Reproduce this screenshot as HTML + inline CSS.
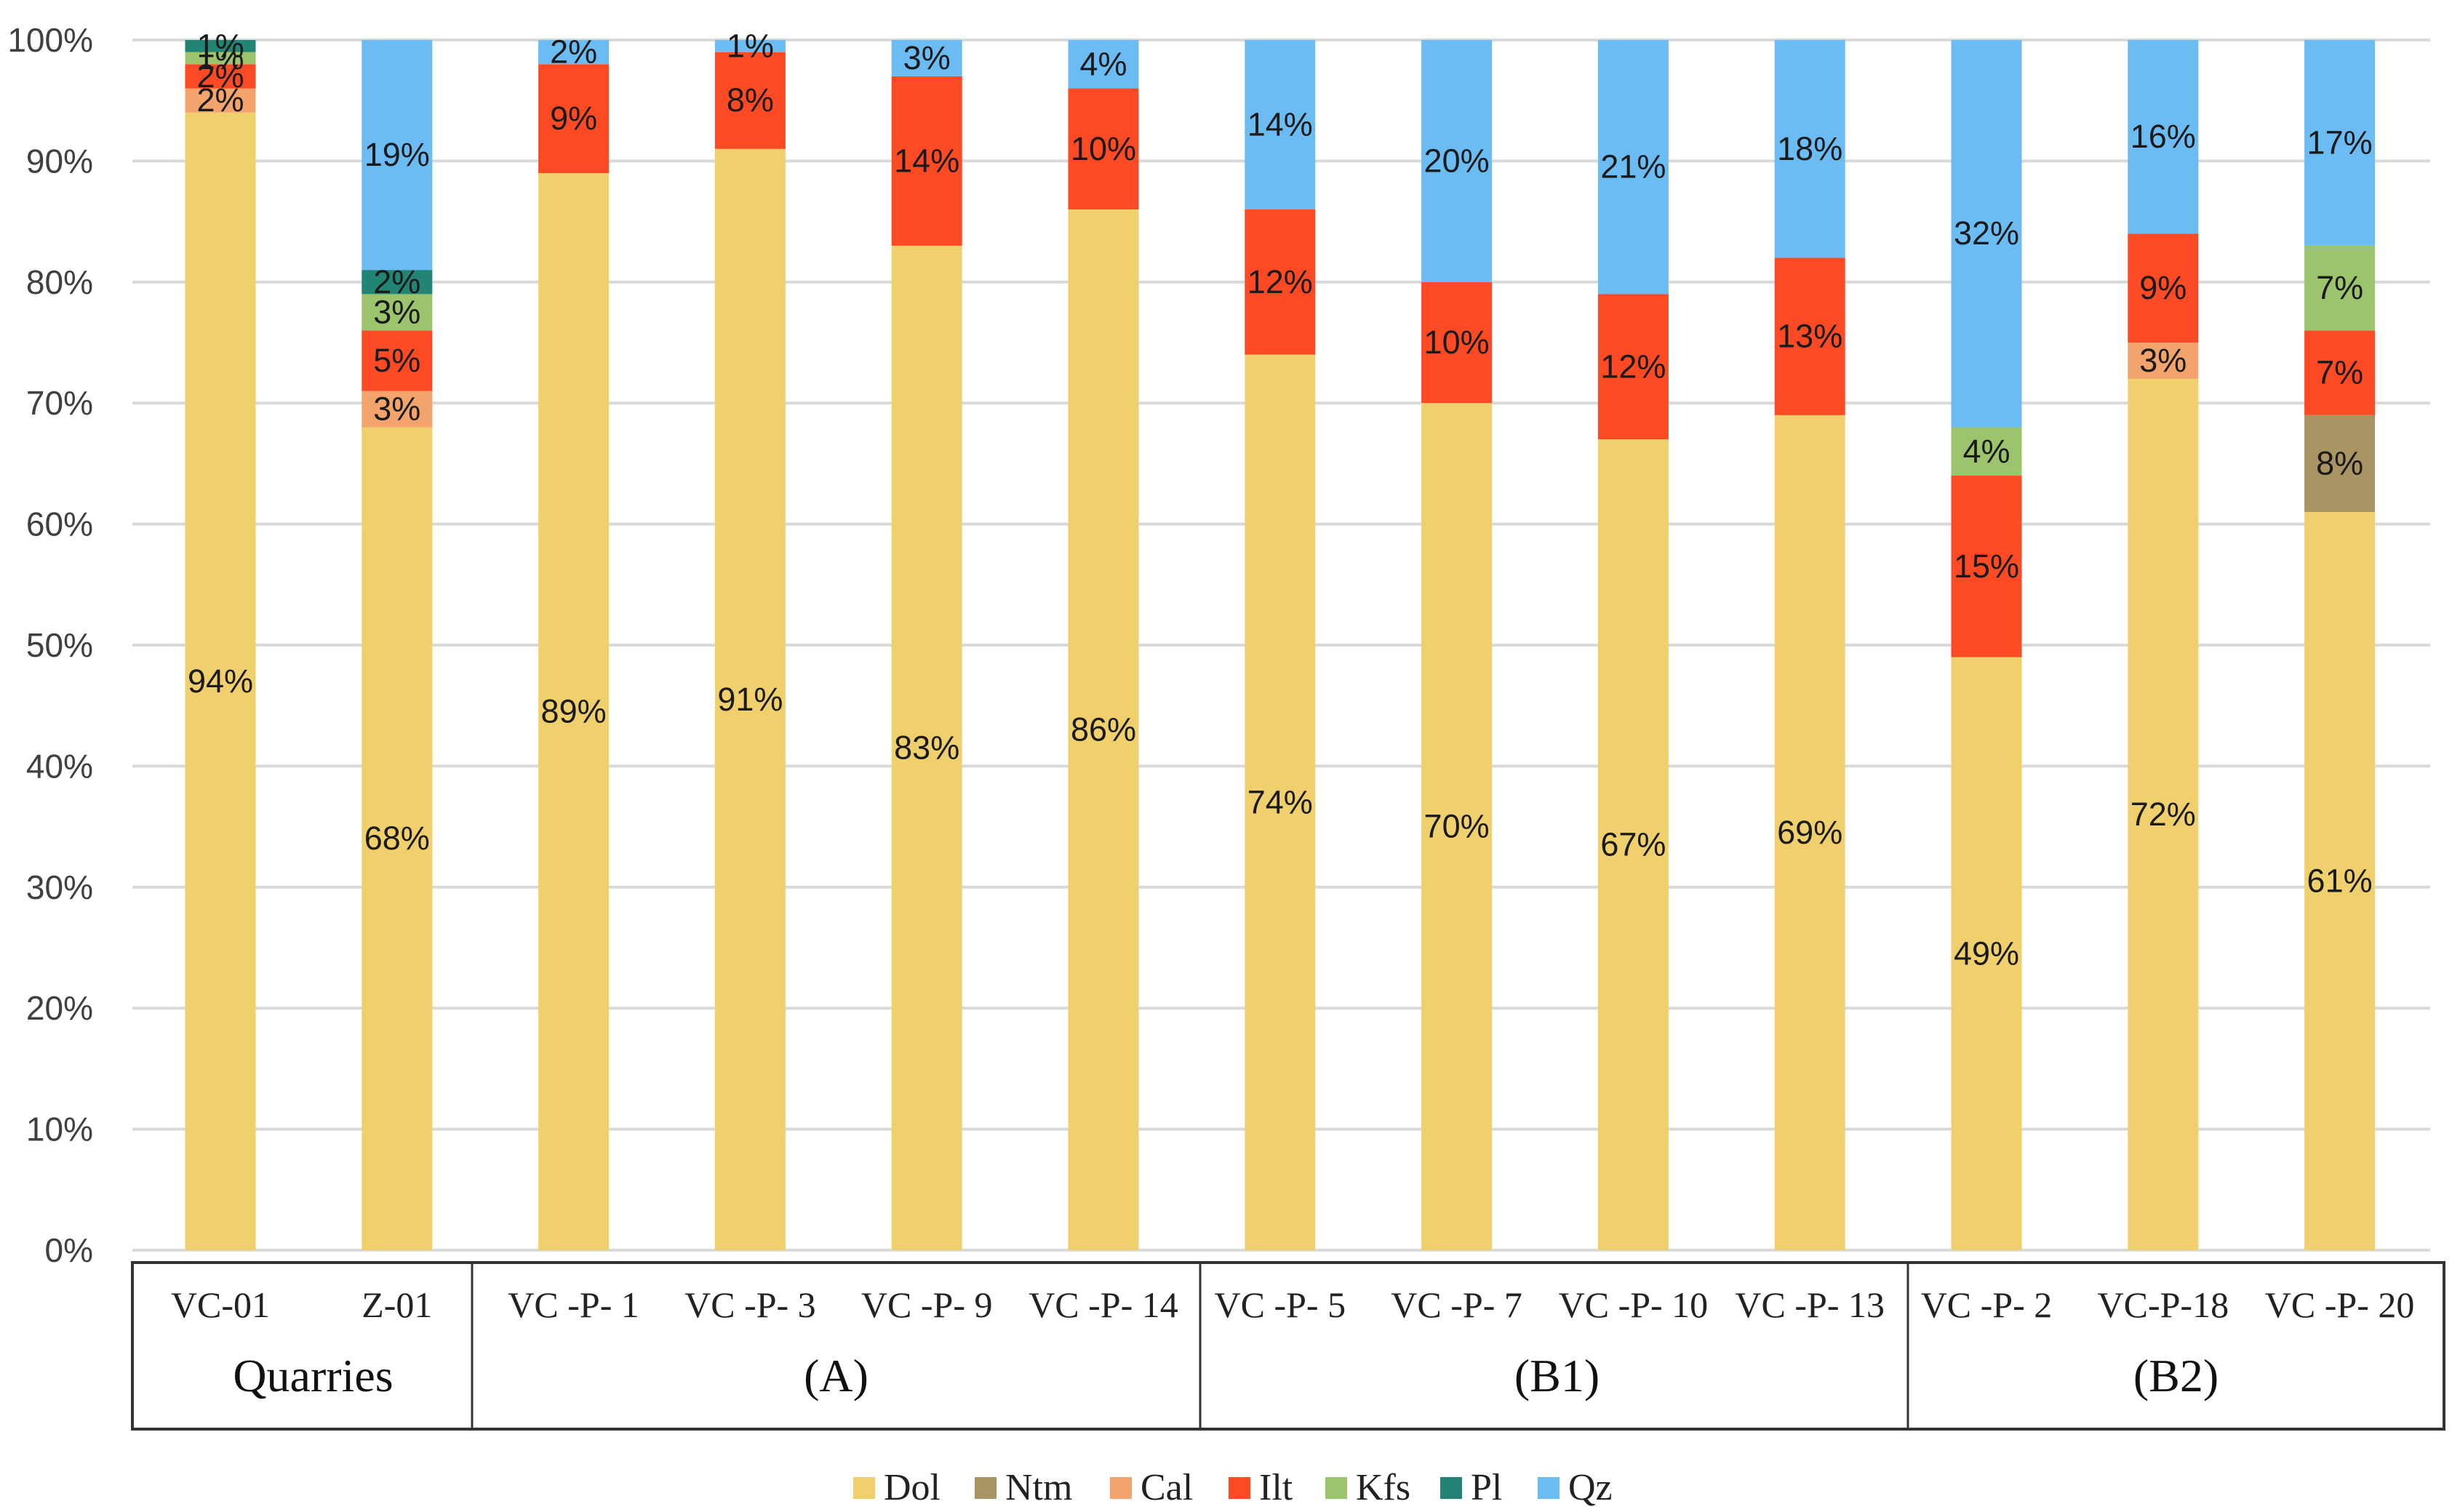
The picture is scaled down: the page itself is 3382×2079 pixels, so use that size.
<!DOCTYPE html>
<html><head><meta charset="utf-8"><style>
html,body{margin:0;padding:0;background:#fff;}
svg{display:block;}
</style></head><body>
<svg id="chart" width="3382" height="2079" viewBox="0 0 3382 2079" xmlns="http://www.w3.org/2000/svg">
<g id="grid"></g>
<g id="yticks"></g>
<g id="bars"></g>
<g id="table"></g>
<g id="legend"></g>
</svg>
<script>
const categories = ["VC-01","Z-01","VC -P- 1","VC -P- 3","VC -P- 9","VC -P- 14","VC -P- 5","VC -P- 7","VC -P- 10","VC -P- 13","VC -P- 2","VC-P-18","VC -P- 20"];
const seriesNames = ["Dol","Ntm","Cal","Ilt","Kfs","Pl","Qz"];
const dol = [94,68,89,91,83,86,74,70,67,69,49,72,61];
const ntm = [0,0,0,0,0,0,0,0,0,0,0,0,8];
const cal = [2,3,0,0,0,0,0,0,0,0,0,3,0];
const ilt = [2,5,9,8,14,10,12,10,12,13,15,9,7];
const kfs = [1,3,0,0,0,0,0,0,0,0,4,0,7];
const pl  = [1,2,0,0,0,0,0,0,0,0,0,0,0];
const qz  = [0,19,2,1,3,4,14,20,21,18,32,16,17];
const yTicks = [0,10,20,30,40,50,60,70,80,90,100];
const groups = ["Quarries","(A)","(B1)","(B2)"];
const groupSizes = [2,4,4,3];

const series = [dol,ntm,cal,ilt,kfs,pl,qz];
const colors = ["#F0D06C","#A99463","#F2A46C","#FC4A24","#9CC46C","#218474","#6CBCF4"];
const NS = "http://www.w3.org/2000/svg";
const X0 = 182, X1 = 3341, Y0 = 1719, Y100 = 55;
const step = 242.8;
const firstC = 303;
const barW = 97;
function xc(i){ return firstC + step*i; }
function yv(v){ return Y0 - (Y0 - Y100) * v / 100; }
function mk(tag, attrs, parent){ const e=document.createElementNS(NS,tag); for(const k in attrs) e.setAttribute(k,attrs[k]); parent.appendChild(e); return e; }

const grid=document.getElementById('grid'), yt=document.getElementById('yticks');
yTicks.forEach(t=>{
  const l=mk('line',{x1:X0,x2:X1,y1:yv(t),y2:yv(t),stroke:'#d9d9d9','stroke-width':4},grid);
  
  
  const tx=mk('text',{x:128,y:yv(t)+16,'text-anchor':'end','font-family':'"Liberation Sans", sans-serif','font-size':46,fill:'#404040'},yt);
  tx.textContent=t+'%';
  
  
});

const bars=document.getElementById('bars');
categories.forEach((c,i)=>{
  let cum=0;
  series.forEach((s,k)=>{
    const v=s[i]; if(!v) return;
    const yt0=yv(cum+v), yb=yv(cum);
    const r=mk('rect',{x:xc(i)-barW/2,y:yt0,width:barW,height:yb-yt0,fill:colors[k]},bars);
    
    
    const lb=mk('text',{x:xc(i),y:(yt0+yb)/2+15,'text-anchor':'middle','font-family':'"Liberation Sans", sans-serif','font-size':45,fill:'#1a1a1a'},bars);
    lb.textContent=v+'%';
    
    
    cum+=v;
  });
});

const tb=document.getElementById('table');
const TY0=1736, TY1=1965, TX0=182, TX1=3360;
const box=mk('rect',{x:TX0,y:TY0,width:TX1-TX0,height:TY1-TY0,fill:'none',stroke:'#333','stroke-width':4},tb);


categories.forEach((c,i)=>{
  const t=mk('text',{x:xc(i),y:1811,'text-anchor':'middle','font-family':'"Liberation Serif", serif','font-size':50,fill:'#222'},tb);
  t.textContent=c;
  
  
});
const dividers=[649,1650,2623];
const bounds=[TX0].concat(dividers).concat([TX1]);
const groupNudge=[15,0,4,0];
dividers.forEach(d=>{
  const l=mk('line',{x1:d,x2:d,y1:TY0,y2:TY1,stroke:'#333','stroke-width':3},tb);
  
  
});
groups.forEach((g,j)=>{
  const t=mk('text',{x:(bounds[j]+bounds[j+1])/2+groupNudge[j],y:1913,'text-anchor':'middle','font-family':'"Liberation Serif", serif','font-size':64,fill:'#111'},tb);
  t.textContent=g;
  
  
});

const lg=document.getElementById('legend');
const lx=[1173,1340,1526,1689,1822,1980,2114];
seriesNames.forEach((n,k)=>{
  const r=mk('rect',{x:lx[k],y:2031,width:30,height:30,fill:colors[k]},lg);
  
  
  const t=mk('text',{x:lx[k]+42,y:2062,'font-family':'"Liberation Serif", serif','font-size':52,fill:'#222'},lg);
  t.textContent=n;
  
  
});
</script>
</body></html>
